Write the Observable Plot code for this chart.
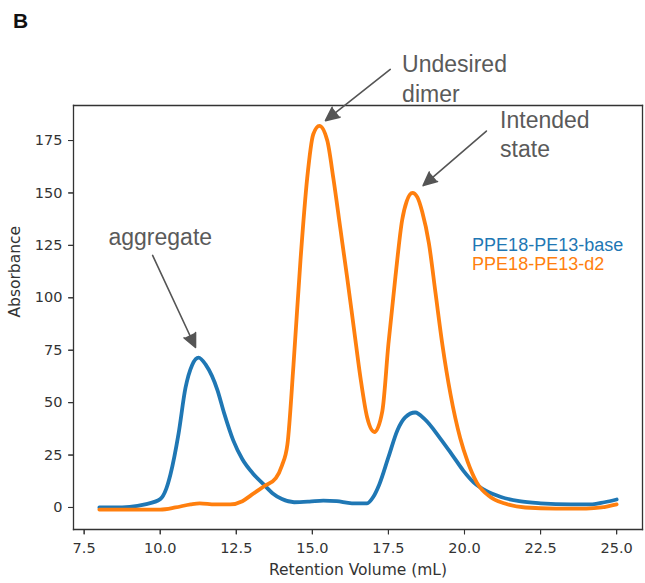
<!DOCTYPE html>
<html>
<head>
<meta charset="utf-8">
<script src="https://cdn.jsdelivr.net/npm/d3@7"></script>
<script src="https://cdn.jsdelivr.net/npm/@observablehq/plot@0.6"></script>
<style>
  html, body { margin: 0; padding: 0; background: #fff; }
  #wrap { position: relative; width: 645px; height: 583px; }
  #panel { position: absolute; left: 13px; top: 9px; font: bold 21px "Liberation Sans", Arial, sans-serif; color: #111; }
</style>
</head>
<body>
<div id="wrap"><div id="panel">B</div></div>
<script>
// ---- data ----
const xDomain = [7.15, 25.85];
const yDomain = [-10.5, 191.7];
const xTicks = [7.5, 10, 12.5, 15, 17.5, 20, 22.5, 25];
const yTicks = [0, 25, 50, 75, 100, 125, 150, 175];
const xLabel = "Retention Volume (mL)";
const yLabel = "Absorbance";

const seriesNames = ["PPE18-PE13-base", "PPE18-PE13-d2"];
const seriesColors = ["#1f77b4", "#ff7f0e"];

const baseVolume = [8.0, 8.5, 9.0, 9.5, 10.0, 10.2, 10.34, 10.6, 10.83, 11.05, 11.26, 11.5, 11.88, 12.1, 12.4, 12.7, 13.06, 13.4, 13.7, 14.0, 14.4, 14.9, 15.36, 15.8, 16.3, 16.8, 17.0, 17.2, 17.5, 17.8, 18.05, 18.38, 18.7, 19.2, 19.6, 19.96, 20.3, 20.7, 21.2, 21.8, 22.5, 23.5, 24.2, 24.6, 25.0];
const baseAbs    = [0, 0, 0.3, 1.5, 4, 9, 16, 35, 57, 68, 71.5, 68, 56, 45, 32, 23, 16, 11, 6.7, 4, 2.5, 2.8, 3.3, 3, 2, 2, 5, 11, 24, 37, 43, 45.3, 42, 33, 25, 17.6, 12, 8, 5, 3, 2, 1.5, 1.5, 2.5, 3.8];

const d2Volume = [8.0, 9.0, 10.0, 10.5, 11.0, 11.3, 11.8, 12.3, 12.7, 13.0, 13.4, 13.8, 14.0, 14.18, 14.38, 14.61, 14.83, 15.03, 15.23, 15.49, 15.69, 15.92, 16.14, 16.36, 16.58, 16.8, 17.04, 17.3, 17.5, 17.73, 17.95, 18.1, 18.29, 18.45, 18.61, 18.83, 19.05, 19.27, 19.54, 19.86, 20.1, 20.4, 20.85, 21.3, 22.0, 23.0, 24.0, 24.5, 25.0];
const d2Abs    = [-1, -1, -1, 0, 1.5, 2, 1.5, 1.5, 3, 6, 10, 14, 20, 30, 68, 118, 157, 178, 182, 175, 157, 133, 110, 86, 62, 43, 36, 46, 78, 110, 137, 146, 150, 148, 141, 126, 102, 78, 54, 33, 22, 12, 5, 2, 0, -0.5, -0.5, 0, 1.5];

// annotations (data coordinates)
const noteText = ["Undesired\ndimer", "Intended\nstate", "aggregate"];
const noteX    = [17.95, 21.17, 8.30];
const noteY    = [205, 178.6, 129.7];

const arrowFromX = [17.56, 20.72, 9.75];
const arrowFromY = [208.9, 179.5, 120.2];
const arrowToX   = [15.43, 18.64, 11.16];
const arrowToY   = [184.5, 153.5, 76.3];

const legendX = [20.25, 20.25];
const legendY = [124.9, 115.9];

// ---- layout ----
const W = 645, H = 583, mL = 73, mR = 3, mT = 105, mB = 54;
const tickPx = 5;
const xPerPx = (xDomain[1] - xDomain[0]) / (W - mL - mR);
const yPerPx = (yDomain[1] - yDomain[0]) / (H - mT - mB);

// ---- build ----
const lines = [
  ...baseVolume.map((v, i) => ({series: seriesNames[0], v, a: baseAbs[i]})),
  ...d2Volume.map((v, i) => ({series: seriesNames[1], v, a: d2Abs[i]}))
];
const notes = noteText.map((t, i) => ({t, x: noteX[i], y: noteY[i]}));
const arrows = arrowFromX.map((x1, i) => ({x1, y1: arrowFromY[i], x2: arrowToX[i], y2: arrowToY[i]}));
const legend = seriesNames.map((s, i) => ({s, x: legendX[i], y: legendY[i], c: seriesColors[i]}));

const [x0, x1] = xDomain, [y0, y1] = yDomain;
const spines = [
  {x1: x0, y1: y0, x2: x1, y2: y0},
  {x1: x0, y1: y1, x2: x1, y2: y1},
  {x1: x0, y1: y0, x2: x0, y2: y1},
  {x1: x1, y1: y0, x2: x1, y2: y1}
];
const tickLinks = [
  ...xTicks.map(t => ({x1: t, x2: t, y1: y0, y2: y0 - tickPx * yPerPx})),
  ...yTicks.map(t => ({x1: x0, x2: x0 - tickPx * xPerPx, y1: t, y2: t}))
];

const spineColor = "#333333";

const chart = Plot.plot({
  width: W,
  height: H,
  marginLeft: mL,
  marginRight: mR,
  marginTop: mT,
  marginBottom: mB,
  x: {domain: xDomain},
  y: {domain: yDomain},
  color: {domain: seriesNames, range: seriesColors},
  style: {fontFamily: "'DejaVu Sans', sans-serif", fontSize: "14.5px", color: "#333333"},
  marks: [
    Plot.axisX({ticks: xTicks, tickFormat: d => d.toFixed(1), tickSize: tickPx, tickPadding: 8, label: null}),
    Plot.axisY({ticks: yTicks, tickFormat: d => String(d), tickSize: tickPx, tickPadding: 6, label: null}),
    Plot.link(spines, {x1: "x1", y1: "y1", x2: "x2", y2: "y2", stroke: spineColor, strokeWidth: 1.3, strokeLinecap: "square"}),
    Plot.link(tickLinks, {x1: "x1", y1: "y1", x2: "x2", y2: "y2", stroke: spineColor, strokeWidth: 1.1}),
    Plot.text([xLabel], {frameAnchor: "bottom", dy: 41, lineAnchor: "middle", fontSize: 15.5}),
    Plot.text([yLabel], {frameAnchor: "left", dx: -58, rotate: -90, lineAnchor: "middle", fontSize: 15.5}),
    Plot.line(lines, {x: "v", y: "a", z: "series", stroke: "series", strokeWidth: 3.8, curve: "monotone-x"}),
    Plot.arrow(arrows, {x1: "x1", y1: "y1", x2: "x2", y2: "y2", stroke: "#555555", fill: "#555555", strokeWidth: 1.6, headLength: 14, headAngle: 50}),
    Plot.text(notes, {x: "x", y: "y", text: "t", textAnchor: "start", lineAnchor: "middle", lineHeight: 1.3, fontSize: 23, fill: "#5a5a5a", fontFamily: "'Liberation Sans', Arial, sans-serif"}),
    Plot.text(legend, {x: "x", y: "y", text: "s", fill: "c", textAnchor: "start", lineAnchor: "middle", fontSize: 18, fontFamily: "'Liberation Sans', Arial, sans-serif"})
  ]
});
document.getElementById("wrap").appendChild(chart);
</script>
</body>
</html>
